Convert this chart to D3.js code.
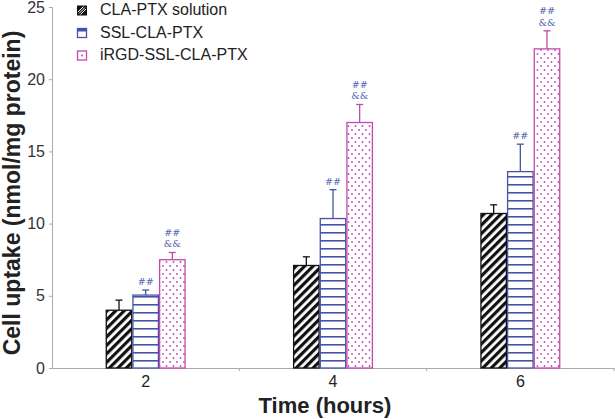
<!DOCTYPE html>
<html>
<head>
<meta charset="utf-8">
<script src="https://cdn.jsdelivr.net/npm/d3@7"></script>
<style>
  body { margin: 0; background: #fff; }
  svg { display: block; font-family: Arial, "Liberation Sans", sans-serif; }
</style>
</head>
<body>
<div id="chart"></div>
<script>
// 데이터
const categories = ["2", "4", "6"];
const seriesNames = ["CLA-PTX solution", "SSL-CLA-PTX", "iRGD-SSL-CLA-PTX"];
const claPtx = [4.0, 7.1, 10.7];
const claPtxErr = [0.7, 0.6, 0.6];
const sslPtx = [5.05, 10.35, 13.6];
const sslPtxErr = [0.35, 2.0, 1.9];
const irgdPtx = [7.5, 17.0, 22.1];
const irgdPtxErr = [0.5, 1.25, 1.25];
// 유의성 표시 (시리즈별)
const sslMarks = [["##"], ["##"], ["##"]];
const irgdMarks = [["##", "&&"], ["##", "&&"], ["##", "&&"]];
const yTicks = [0, 5, 10, 15, 20, 25];

const width = 615, height = 419;
const margin = { left: 52, right: 1, top: 7, bottom: 51 };

const series = [
  { name: seriesNames[0], values: claPtx, err: claPtxErr, marks: null, color: "#111", pattern: "url(#p-diag)" },
  { name: seriesNames[1], values: sslPtx, err: sslPtxErr, marks: sslMarks, color: "#4455a6", pattern: "url(#p-horiz)" },
  { name: seriesNames[2], values: irgdPtx, err: irgdPtxErr, marks: irgdMarks, color: "#c04aae", pattern: "url(#p-dots)" },
];

const svg = d3.select("#chart").append("svg")
  .attr("width", width).attr("height", height);

// 패턴 정의
const defs = svg.append("defs");
const pd = defs.append("pattern").attr("id", "p-diag")
  .attr("patternUnits", "userSpaceOnUse").attr("width", 6).attr("height", 6)
  .attr("patternTransform", "rotate(45)");
pd.append("rect").attr("width", 6).attr("height", 6).attr("fill", "#fff");
pd.append("rect").attr("width", 3.2).attr("height", 6).attr("fill", "#111");

const ph = defs.append("pattern").attr("id", "p-horiz")
  .attr("patternUnits", "userSpaceOnUse").attr("width", 8).attr("height", 8);
ph.append("rect").attr("width", 8).attr("height", 8).attr("fill", "#fff");
ph.append("rect").attr("width", 8).attr("height", 1.6).attr("fill", "#4455a6");

const pdot = defs.append("pattern").attr("id", "p-dots")
  .attr("patternUnits", "userSpaceOnUse").attr("width", 7).attr("height", 8);
pdot.append("rect").attr("width", 7).attr("height", 8).attr("fill", "#fff");
pdot.append("circle").attr("cx", 2).attr("cy", 2).attr("r", 0.9).attr("fill", "#c04aae");
pdot.append("circle").attr("cx", 5.5).attr("cy", 6).attr("r", 0.9).attr("fill", "#c04aae");

// 스케일
const x0 = d3.scaleBand()
  .domain(categories)
  .range([margin.left, width - margin.right])
  .paddingInner(0.573)
  .paddingOuter(0.2865);
const x1 = d3.scaleBand()
  .domain(d3.range(series.length))
  .range([0, x0.bandwidth()]);
const y = d3.scaleLinear()
  .domain([0, 25])
  .range([height - margin.bottom, margin.top]);

// 축
const axisColor = "#aaa";
const yAxis = svg.append("g")
  .attr("transform", `translate(${margin.left},0)`)
  .call(d3.axisLeft(y).tickValues(yTicks).tickSize(3).tickPadding(4));
yAxis.select(".domain").attr("stroke", axisColor);
yAxis.selectAll(".tick line").attr("stroke", axisColor);
yAxis.selectAll(".tick text").attr("font-size", 16).attr("fill", "#333")
  .attr("font-family", "Arial, 'Liberation Sans', sans-serif");

const xAxis = svg.append("g")
  .attr("transform", `translate(0,${y(0)})`)
  .call(d3.axisBottom(x0).tickSize(0).tickPadding(8));
xAxis.select(".domain").attr("stroke", axisColor);
xAxis.selectAll(".tick text").attr("font-size", 16).attr("fill", "#222")
  .attr("font-family", "Arial, 'Liberation Sans', sans-serif");

// 카테고리 경계 눈금
const step = x0.step();
const bounds = categories.map((c) => x0(c) + x0.bandwidth() / 2 + step / 2);
svg.append("g").selectAll("line").data(bounds).join("line")
  .attr("x1", (d) => d).attr("x2", (d) => d)
  .attr("y1", y(0)).attr("y2", y(0) + 3)
  .attr("stroke", axisColor);

// 막대
const groups = svg.append("g").selectAll("g")
  .data(series).join("g");

groups.each(function (s, si) {
  const g = d3.select(this);
  categories.forEach((c, ci) => {
    const bx = x0(c) + x1(si);
    const bw = x1.bandwidth();
    const cx = bx + bw / 2;
    const v = s.values[ci];
    const top = y(v + s.err[ci]);
    // 오차 막대
    g.append("line").attr("x1", cx).attr("x2", cx)
      .attr("y1", y(v)).attr("y2", top)
      .attr("stroke", s.color).attr("stroke-width", 1.3);
    g.append("line").attr("x1", cx - 3.5).attr("x2", cx + 3.5)
      .attr("y1", top).attr("y2", top)
      .attr("stroke", s.color).attr("stroke-width", 1.3);
    g.append("rect")
      .attr("x", bx + 0.6).attr("y", y(v))
      .attr("width", bw - 1.2).attr("height", y(0) - y(v))
      .attr("fill", s.pattern)
      .attr("stroke", s.color).attr("stroke-width", 1.3);
    // 유의성 표시
    if (s.marks) {
      const marks = s.marks[ci];
      marks.forEach((m, mi) => {
        g.append("text")
          .attr("x", cx)
          .attr("y", top - 5 - (marks.length - 1 - mi) * 11.5)
          .attr("text-anchor", "middle")
          .attr("font-family", "'DejaVu Serif', 'Liberation Serif', serif")
          .attr("font-size", 9.5)
          .attr("fill", "#5566b0")
          .text(m);
      });
    }
  });
});

// 범례
const legend = svg.append("g").attr("transform", "translate(77,5.5)");
series.forEach((s, i) => {
  const row = legend.append("g").attr("transform", `translate(0,${i * 22.5})`);
  if (i === 0) {
    row.append("rect").attr("width", 10).attr("height", 10).attr("fill", "#111");
    row.append("path").attr("d", "M2,8 L8,2 M3.5,9 L9,3.5 M1,6.5 L6.5,1")
      .attr("stroke", "#fff").attr("stroke-width", 1);
  } else if (i === 1) {
    row.append("rect").attr("x", 0.5).attr("y", 0.5).attr("width", 9).attr("height", 9)
      .attr("fill", "#fff").attr("stroke", s.color).attr("stroke-width", 1.3);
    row.append("rect").attr("x", 0.5).attr("y", 0.5).attr("width", 9).attr("height", 3)
      .attr("fill", s.color);
  } else {
    row.append("rect").attr("x", 0.5).attr("y", 0.5).attr("width", 9).attr("height", 9)
      .attr("fill", "#fff").attr("stroke", s.color).attr("stroke-width", 1.3);
    row.append("circle").attr("cx", 5).attr("cy", 5).attr("r", 1).attr("fill", s.color);
  }
  row.append("text").attr("x", 23).attr("y", 9.5)
    .attr("font-size", 16).attr("fill", "#222")
    .text(s.name);
});

// 축 제목
svg.append("text")
  .attr("x", 325).attr("y", 413)
  .attr("text-anchor", "middle")
  .attr("font-size", 22).attr("font-weight", "bold").attr("fill", "#222")
  .text("Time (hours)");
svg.append("text")
  .attr("transform", "translate(20,193) rotate(-90)")
  .attr("text-anchor", "middle")
  .attr("font-size", 23).attr("font-weight", "bold").attr("fill", "#222")
  .text("Cell uptake (nmol/mg protein)");
</script>
</body>
</html>
